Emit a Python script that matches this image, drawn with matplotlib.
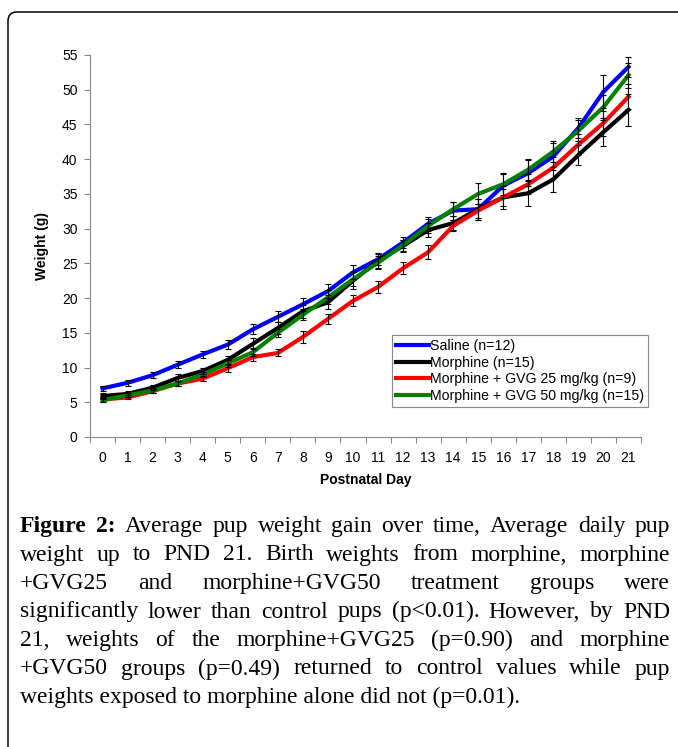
import numpy as np
import matplotlib
matplotlib.use('Agg')
import matplotlib.pyplot as plt
from matplotlib.patches import FancyBboxPatch

# datos (peso medio en g por dia postnatal)
days = list(range(22))
saline = [7.0, 7.8, 8.9, 10.4, 11.9, 13.3, 15.5, 17.3, 19.1, 21.0, 23.7,
          25.6, 28.0, 30.7, 32.6, 32.8, 36.2, 38.0, 40.4, 44.5, 49.7, 53.3]
morphine = [5.9, 6.2, 7.1, 8.5, 9.5, 11.1, 13.4, 15.7, 18.1, 19.4, 22.5,
            25.4, 27.5, 29.8, 30.8, 32.8, 34.5, 35.1, 37.1, 40.6, 43.9, 47.1]
gvg25 = [5.4, 5.7, 6.6, 7.7, 8.4, 9.9, 11.5, 12.1, 14.4, 17.0, 19.6,
         21.6, 24.3, 26.6, 30.4, 32.6, 34.5, 36.4, 38.8, 42.1, 45.2, 49.0]
gvg50 = [5.3, 6.0, 6.7, 7.7, 9.0, 10.6, 12.2, 15.0, 17.6, 20.1, 22.7,
         25.1, 27.6, 30.4, 32.8, 35.0, 36.4, 38.5, 41.1, 44.1, 47.5, 52.1]

# errores estandar (aprox.)
saline_sem = [0.4, 0.4, 0.4, 0.5, 0.5, 0.6, 0.7, 0.8, 0.9, 1.0, 1.0,
              0.9, 0.8, 1.0, 1.3, 1.5, 1.8, 1.9, 2.0, 1.5, 2.4, 1.4]
morphine_sem = [0.4, 0.4, 0.4, 0.5, 0.5, 0.6, 0.8, 0.9, 0.9, 1.0, 1.2,
                1.0, 0.9, 1.0, 1.0, 1.5, 1.7, 1.8, 1.8, 1.5, 2.0, 2.3]
gvg25_sem = [0.3, 0.3, 0.3, 0.4, 0.4, 0.5, 0.5, 0.5, 0.8, 0.7, 0.8,
             0.8, 0.9, 1.0, 0.8, 1.0, 1.2, 1.4, 1.5, 1.5, 1.8, 1.8]
gvg50_sem = [0.3, 0.3, 0.3, 0.4, 0.4, 0.5, 0.6, 0.6, 0.8, 1.0, 1.0,
             0.9, 0.8, 1.0, 1.0, 1.5, 1.5, 1.5, 1.5, 1.5, 1.8, 1.8]

labels = ['Saline (n=12)', 'Morphine (n=15)',
          'Morphine + GVG 25 mg/kg (n=9)', 'Morphine + GVG 50 mg/kg (n=15)']
colors = ['#0000FF', '#000000', '#FF0000', '#008000']

caption_lines = [
    'Figure 2: Average pup weight gain over time, Average daily pup',
    'weight up to PND 21. Birth weights from morphine, morphine',
    '+GVG25 and morphine+GVG50 treatment groups were',
    'significantly lower than control pups (p<0.01). However, by PND',
    '21, weights of the morphine+GVG25 (p=0.90) and morphine',
    '+GVG50 groups (p=0.49) returned to control values while pup',
    'weights exposed to morphine alone did not (p=0.01).',
]

plt.rcParams['font.family'] = ['Liberation Sans', 'DejaVu Sans']

W, H = 678, 747
fig = plt.figure(figsize=(W / 100, H / 100), dpi=100)

# capa de fondo en pixeles: marco redondeado y pie de figura
bg = fig.add_axes([0, 0, 1, 1])
bg.set_xlim(0, W)
bg.set_ylim(H, 0)
bg.axis('off')
bg.add_patch(FancyBboxPatch((8, 12), 800, 800,
                            boxstyle='round,pad=0,rounding_size=9',
                            fill=False, ec='black', lw=1.1))

# grafico
ax = fig.add_axes([90 / W, (H - 437) / H, (641 - 90) / W, (437 - 55) / H])
series = [saline, morphine, gvg25, gvg50]
sems = [saline_sem, morphine_sem, gvg25_sem, gvg50_sem]
for vals, col, lab in zip(series, colors, labels):
    ax.plot(days, vals, color=col, lw=3, label=lab, zorder=2)
for vals, err in zip(series, sems):
    ax.errorbar(days, vals, yerr=err, fmt='none', ecolor='black',
                elinewidth=0.8, capsize=2.5, capthick=0.8, zorder=3)

ax.set_xlim(-0.5, 21.5)
ax.set_ylim(0, 55)
ax.set_xticks(days)
ax.set_xticks(np.arange(-0.5, 22, 1), minor=True)
ax.set_yticks(range(0, 56, 5))
ax.tick_params(axis='x', which='major', length=0, pad=10, labelsize=10)
ax.tick_params(axis='x', which='minor', length=4, color='#888888', width=0.8)
ax.tick_params(axis='y', length=4, color='#888888', width=0.8, pad=5, labelsize=10)
for s in ['top', 'right']:
    ax.spines[s].set_visible(False)
for s in ['left', 'bottom']:
    ax.spines[s].set_color('#888888')
    ax.spines[s].set_linewidth(0.8)
ax.set_xlabel('Postnatal Day', fontweight='bold', fontsize=10, labelpad=6)
ax.set_ylabel('Weight (g)', fontweight='bold', fontsize=10, labelpad=9)

leg = ax.legend(loc='upper left', bbox_to_anchor=(392 / W, 1 - 335 / H),
                bbox_transform=fig.transFigure, borderaxespad=0,
                fancybox=False, edgecolor='#888888', fontsize=10.2,
                handlelength=2.3, handletextpad=0.05, labelspacing=0.18,
                borderpad=0.3, framealpha=1)
leg.get_frame().set_linewidth(0.8)

# pie de figura justificado
cap_font = 'Liberation Serif'
cap_fs = 17
x0, x1 = 20, 670
base0, step = 532, 28.5
renderer = fig.canvas.get_renderer()


def word_width(s, weight):
    t = bg.text(0, 0, s, fontsize=cap_fs, family=cap_font, fontweight=weight)
    w = t.get_window_extent(renderer).width
    t.remove()
    return w


for i, line in enumerate(caption_lines):
    y = base0 + i * step
    words = line.split(' ')
    weights = ['normal'] * len(words)
    if i == 0:
        weights[0] = weights[1] = 'bold'
    if i == len(caption_lines) - 1:
        bg.text(x0, y, line, fontsize=cap_fs, family=cap_font, va='baseline')
        continue
    widths = [word_width(w, wt) for w, wt in zip(words, weights)]
    gap = (x1 - x0 - sum(widths)) / (len(words) - 1)
    x = x0
    for w, wt, wd in zip(words, weights, widths):
        bg.text(x, y, w, fontsize=cap_fs, family=cap_font, fontweight=wt, va='baseline')
        x += wd + gap

fig.savefig('out.png', dpi=100)
